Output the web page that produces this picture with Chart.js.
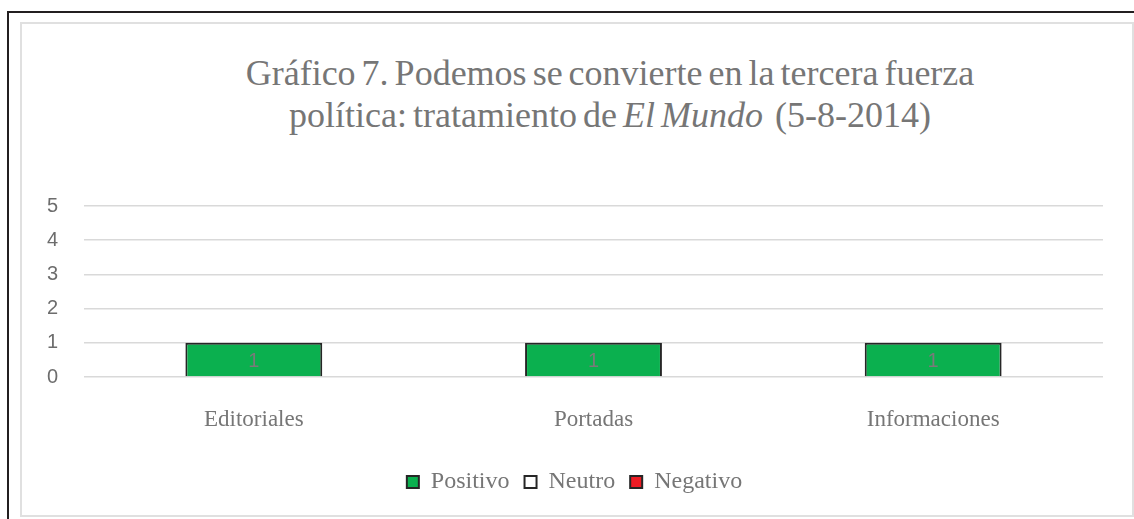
<!DOCTYPE html>
<html>
<head>
<meta charset="utf-8">
<script src="https://cdn.jsdelivr.net/npm/chart.js@4/dist/chart.umd.min.js"></script>
<style>
  html, body { margin: 0; padding: 0; background: #fff; }
  #wrap { position: relative; width: 1134px; height: 519px; overflow: hidden; background: #fff; }
  #outerTop { position: absolute; left: 7px; top: 11px; width: 1127px; height: 2px; background: #231f20; }
  #outerLeft { position: absolute; left: 7px; top: 11px; width: 2px; height: 508px; background: #231f20; }
  #inner { position: absolute; left: 20px; top: 22px; width: 1110px; height: 491px; border: 2px solid #e0e0e0; }
  #title { position: absolute; left: 160px; width: 900px; top: 52px; text-align: center;
           font-family: "Liberation Serif", "Times New Roman", serif; font-size: 36px; line-height: 42px;
           color: #767676; word-spacing: -3px; }
  canvas { position: absolute; left: 0; top: 0; }
</style>
</head>
<body>
<div id="wrap">
  <div id="outerTop"></div>
  <div id="outerLeft"></div>
  <div id="inner"></div>
  <div id="title">Gráfico 7. Podemos se convierte en la tercera fuerza<br>política: tratamiento de <i>El Mundo</i>&nbsp; (5-8-2014)</div>
  <canvas id="c" width="1134" height="519"></canvas>
</div>
<script>
const categories = ["Editoriales", "Portadas", "Informaciones"];
const positivo = [1, 1, 1];
const neutro = [0, 0, 0];
const negativo = [0, 0, 0];
const yTicks = [0, 1, 2, 3, 4, 5];

const serif = '"Liberation Serif", "Times New Roman", serif';
const sans = '"Liberation Sans", Arial, sans-serif';

const dataLabels = {
  id: 'dataLabels',
  afterDatasetsDraw(chart) {
    const ctx = chart.ctx;
    ctx.save();
    ctx.font = '20px ' + sans;
    ctx.fillStyle = '#7a7a7a';
    ctx.textAlign = 'center';
    ctx.textBaseline = 'middle';
    chart.data.datasets.forEach((ds, di) => {
      const meta = chart.getDatasetMeta(di);
      meta.data.forEach((bar, i) => {
        const v = ds.data[i];
        if (!v) return;
        const p = bar.getProps(['x', 'y', 'base'], true);
        ctx.fillText(String(v), p.x, (p.y + p.base) / 2 + 2);
      });
    });
    ctx.restore();
  }
};

const bw = (c) => (c.raw === 0 ? 0 : 2);

new Chart(document.getElementById('c'), {
  type: 'bar',
  data: {
    labels: categories,
    datasets: [
      { label: 'Positivo', data: positivo, backgroundColor: '#0bb04f', borderColor: '#262626', borderWidth: bw, borderSkipped: 'bottom' },
      { label: 'Neutro', data: neutro, backgroundColor: '#ffffff', borderColor: '#262626', borderWidth: bw, borderSkipped: 'bottom' },
      { label: 'Negativo', data: negativo, backgroundColor: '#ed1c24', borderColor: '#262626', borderWidth: bw, borderSkipped: 'bottom' }
    ]
  },
  options: {
    responsive: false,
    animation: false,
    devicePixelRatio: 1,
    barPercentage: 0.403,
    categoryPercentage: 1,
    layout: { padding: { top: 206, right: 31, bottom: 15, left: 46 } },
    plugins: {
      title: { display: false },
      tooltip: { enabled: false },
      legend: {
        position: 'bottom',
        labels: {
          font: { family: serif, size: 24 },
          color: '#767676',
          boxWidth: 12,
          boxHeight: 12,
          padding: 15,
          generateLabels(chart) {
            return chart.data.datasets.map((ds, i) => ({
              text: ds.label,
              fillStyle: ds.backgroundColor,
              strokeStyle: '#262626',
              lineWidth: 2,
              fontColor: '#767676',
              hidden: !chart.isDatasetVisible(i),
              datasetIndex: i
            }));
          }
        }
      }
    },
    scales: {
      x: {
        stacked: true,
        grid: { display: false, drawTicks: false },
        border: { display: false },
        ticks: { font: { family: serif, size: 23 }, color: '#767676', padding: 29 },
        afterFit(s) { s.height = 78; }
      },
      y: {
        stacked: true,
        min: 0,
        max: 5,
        afterBuildTicks(s) { s.ticks = yTicks.map(v => ({ value: v })); },
        grid: { color: '#d9d9d9', lineWidth: 1.5, drawTicks: false },
        border: { display: false },
        ticks: { font: { family: sans, size: 20 }, color: '#6d6d6d', padding: 26 },
        afterFit(s) { s.width = 38; }
      }
    }
  },
  plugins: [dataLabels]
});
</script>
</body>
</html>
